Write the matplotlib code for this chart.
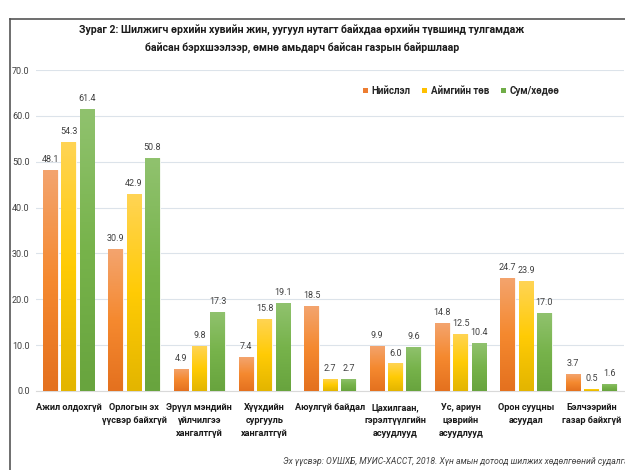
import numpy as np
import matplotlib.pyplot as plt
from matplotlib.colors import LinearSegmentedColormap
from matplotlib.lines import Line2D
from matplotlib.patches import Patch

plt.rcParams['font.family'] = ['Roboto', 'DejaVu Sans']

categories = [
    'Ажил олдохгүй',
    'Орлогын эх\nүүсвэр байхгүй',
    'Эрүүл мэндийн\nүйлчилгээ\nхангалтгүй',
    'Хүүхдийн\nсургууль\nхангалтгүй',
    'Аюулгүй байдал',
    'Цахилгаан,\nгэрэлтүүлгийн\nасуудлууд',
    'Ус, ариун\nцэврийн\nасуудлууд',
    'Орон сууцны\nасуудал',
    'Бэлчээрийн\nгазар байхгүй',
]
series_names = ['Нийслэл', 'Аймгийн төв', 'Сум/хөдөө']
capital = [48.1, 30.9, 4.9, 7.4, 18.5, 9.9, 14.8, 24.7, 3.7]
aimag = [54.3, 42.9, 9.8, 15.8, 2.7, 6.0, 12.5, 23.9, 0.5]
soum = [61.4, 50.8, 17.3, 19.1, 2.7, 9.6, 10.4, 17.0, 1.6]
yticks = [0, 10, 20, 30, 40, 50, 60, 70]

# gradient colours (bottom -> top)
grads = [
    ['#E4711F', '#F5892F', '#F3A46E'],
    ['#E3B500', '#FFCB05', '#FFD454'],
    ['#68A43E', '#77B34B', '#90C26E'],
]
solid = ['#ED7D31', '#FFC000', '#70AD47']

fig = plt.figure(figsize=(6.25, 4.7), dpi=100)
ax = fig.add_axes([36 / 625, 1 - 391 / 470, 588 / 625, 321 / 470])

x = np.arange(len(categories))
width = 0.226
offsets = [-0.282, 0, 0.282]
grad = np.linspace(0, 1, 100).reshape(-1, 1)

for vals, off, g, c in zip([capital, aimag, soum], offsets, grads, solid):
    bars = ax.bar(x + off, vals, width, color=c, edgecolor='white', linewidth=0.6, zorder=2)
    cmap = LinearSegmentedColormap.from_list('g', g)
    for b, v in zip(bars, vals):
        x0 = b.get_x()
        im = ax.imshow(grad, extent=[x0, x0 + b.get_width(), 0, v], origin='lower',
                       cmap=cmap, aspect='auto', zorder=3)
        im.set_clip_path(b)
        ax.text(b.get_x() + b.get_width() / 2, v + 1.3, f'{v:.1f}', ha='center', va='bottom',
                fontsize=6.5, color='#404040', zorder=4)

ax.set_xlim(-0.5, len(categories) - 0.5)
ax.set_ylim(0, 70)
ax.set_yticks(yticks)
ax.set_yticklabels([f'{t:.1f}' for t in yticks], fontsize=6.5, color='#404040')
ax.set_xticks(x)
ax.set_xticklabels(categories, fontsize=6.6, fontweight='bold', color='#1a1a1a', linespacing=1.6)
ax.tick_params(axis='both', length=0)
ax.tick_params(axis='x', pad=8.5)
ax.tick_params(axis='y', pad=4.5)
ax.grid(axis='y', color='#DCE3EA', linewidth=0.8, zorder=0)
for s in ['top', 'right', 'left']:
    ax.spines[s].set_visible(False)
ax.spines['bottom'].set_color('#D9D9D9')

handles = [Patch(facecolor=c, edgecolor='none') for c in solid]
leg = fig.legend(handles, series_names, loc='center', bbox_to_anchor=(461 / 625, 1 - 91 / 470),
                 ncol=3, frameon=False, fontsize=7, handlelength=0.55, handleheight=0.55,
                 handletextpad=0.35, columnspacing=1.2)
for t in leg.get_texts():
    t.set_fontweight('bold')
    t.set_color('#262626')

fig.text(0.483, 1 - 30 / 470, 'Зураг 2: Шилжигч өрхийн хувийн жин, уугуул нутагт байхдаа өрхийн түвшинд тулгамдаж',
         ha='center', va='center', fontsize=7.6, fontweight='bold', color='#1a1a1a')
fig.text(0.483, 1 - 48 / 470, 'байсан бэрхшээлээр, өмнө амьдарч байсан газрын байршлаар',
         ha='center', va='center', fontsize=7.6, fontweight='bold', color='#1a1a1a')

fig.text(283 / 625, 1 - 462 / 470,
         'Эх үүсвэр: ОУШХБ, МУИС-ХАССТ, 2018. Хүн амын дотоод шилжих хөдөлгөөний судалгаа',
         ha='left', va='center', fontsize=6.2, style='italic', color='#404040')

# document frame
fig.add_artist(Line2D([10 / 625, 10 / 625], [0, 1 - 19 / 470], color='#555555', linewidth=1.2))
fig.add_artist(Line2D([10 / 625, 1], [1 - 19 / 470, 1 - 19 / 470], color='#555555', linewidth=1.2))

fig.savefig('out.png', dpi=100)
